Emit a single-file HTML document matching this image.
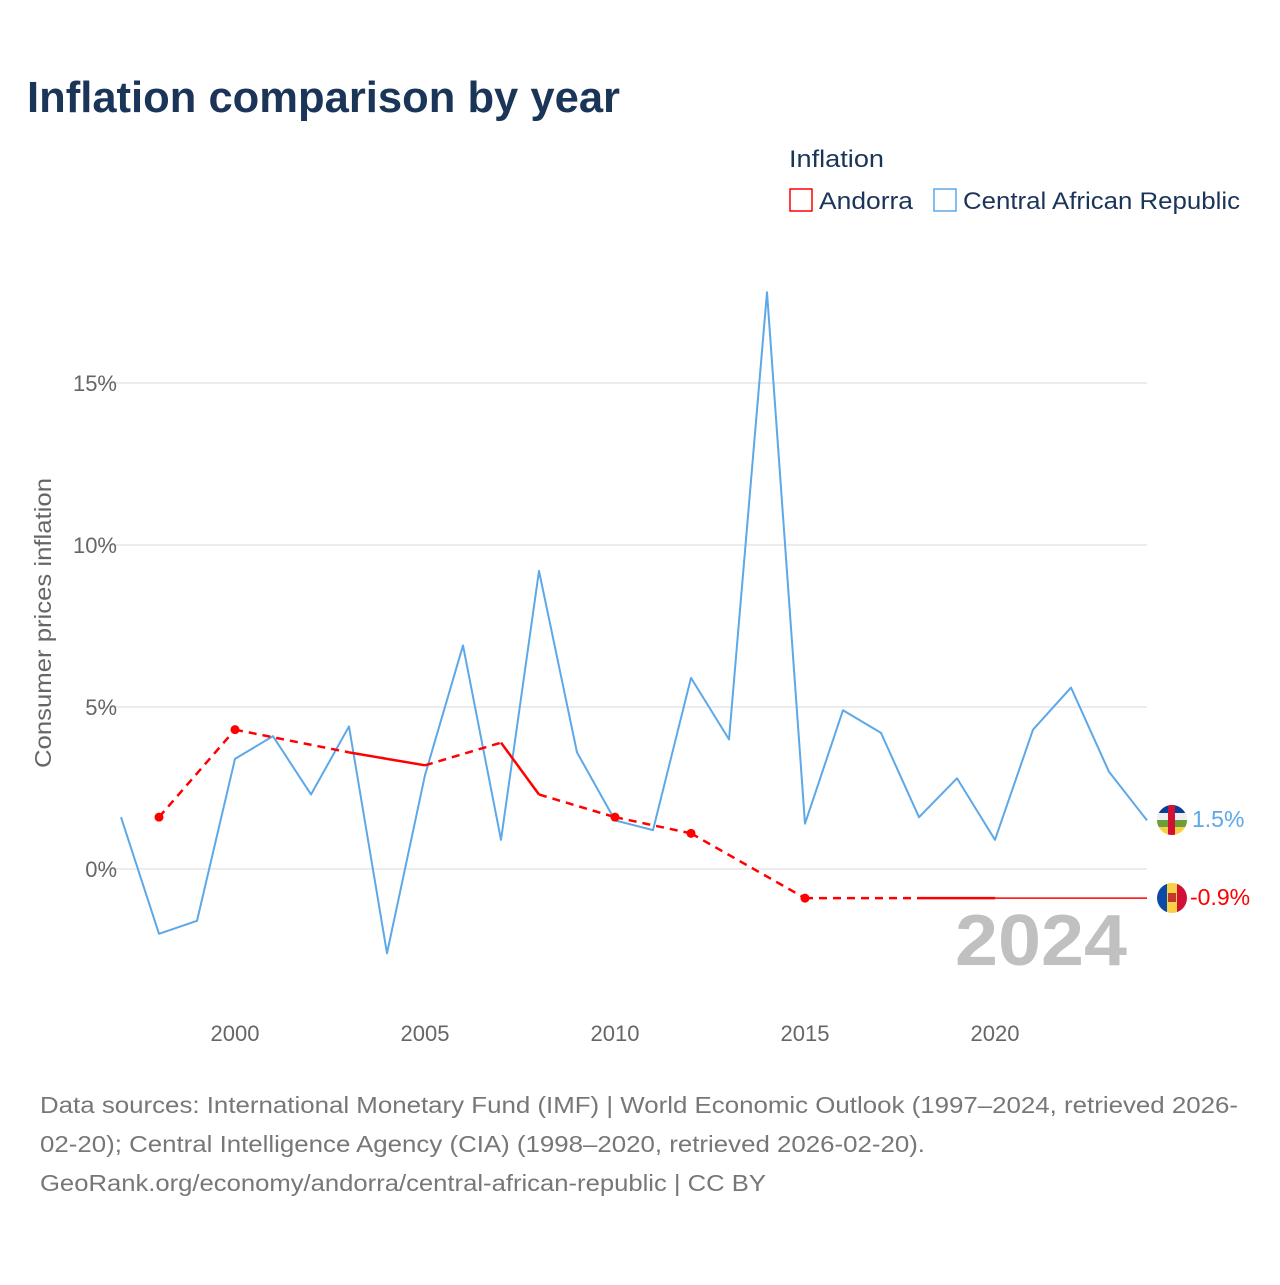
<!DOCTYPE html>
<html><head><meta charset="utf-8"><style>
body{margin:0;background:#fff;font-family:"Liberation Sans",sans-serif;}
svg text{font-family:"Liberation Sans",sans-serif;}
</style></head><body>
<svg width="1280" height="1280" viewBox="0 0 1280 1280">
<text x="27" y="112" font-size="44" font-weight="bold" fill="#1b3558" textLength="593" lengthAdjust="spacingAndGlyphs">Inflation comparison by year</text>
<text x="789" y="167" font-size="24" fill="#1b3558" textLength="95" lengthAdjust="spacingAndGlyphs">Inflation</text>
<g><rect x="790" y="189" width="22" height="22" fill="none" stroke="#ff0000" stroke-width="1.5"/><text x="819" y="209" font-size="24" fill="#1b3558" textLength="94" lengthAdjust="spacingAndGlyphs">Andorra</text></g>
<g><rect x="934" y="189" width="22" height="22" fill="none" stroke="#5ca8e8" stroke-width="1.5"/><text x="963" y="209" font-size="24" fill="#1b3558" textLength="277" lengthAdjust="spacingAndGlyphs">Central African Republic</text></g>
<g id="grid"></g>
<g id="xaxis"></g>
<text transform="translate(51,623) rotate(-90)" text-anchor="middle" font-size="23" fill="#666" textLength="290" lengthAdjust="spacingAndGlyphs">Consumer prices inflation</text>
<text x="1127" y="965" text-anchor="end" font-size="72" font-weight="bold" fill="#c0c0c0" textLength="172" lengthAdjust="spacingAndGlyphs">2024</text>
<g id="series"></g>
<g><clipPath id="c1"><circle cx="1172" cy="820" r="15"/></clipPath><g clip-path="url(#c1)"><rect x="1157" y="805" width="30" height="8" fill="#0c3d99"/><rect x="1157" y="813" width="30" height="7" fill="#eee"/><rect x="1157" y="820" width="30" height="7" fill="#6a9e3a"/><rect x="1157" y="827" width="30" height="8" fill="#f7d046"/><rect x="1168" y="805" width="7" height="30" fill="#d21034"/></g></g>
<text x="1192" y="827" font-size="23" fill="#5ca8e8">1.5%</text>
<g><clipPath id="c2"><circle cx="1172" cy="898" r="15"/></clipPath><g clip-path="url(#c2)"><rect x="1157" y="883" width="10" height="30" fill="#0b4aa8"/><rect x="1167" y="883" width="10" height="30" fill="#f7d046"/><rect x="1177" y="883" width="10" height="30" fill="#d21034"/><rect x="1168" y="893" width="8" height="9" fill="#c0392b"/></g></g>
<text x="1190" y="905" font-size="23" fill="#ff0000">-0.9%</text>
<g font-size="23" fill="#777">
<text x="40" y="1113" textLength="1198" lengthAdjust="spacingAndGlyphs">Data sources: International Monetary Fund (IMF) | World Economic Outlook (1997–2024, retrieved 2026-</text>
<text x="40" y="1152" textLength="885" lengthAdjust="spacingAndGlyphs">02-20); Central Intelligence Agency (CIA) (1998–2020, retrieved 2026-02-20).</text>
<text x="40" y="1191" textLength="726" lengthAdjust="spacingAndGlyphs">GeoRank.org/economy/andorra/central-african-republic | CC BY</text>
</g>
</svg>
<script>
const carYears=[1997,1998,1999,2000,2001,2002,2003,2004,2005,2006,2007,2008,2009,2010,2011,2012,2013,2014,2015,2016,2017,2018,2019,2020,2021,2022,2023,2024];
const carValues=[1.6,-2.0,-1.6,3.4,4.1,2.3,4.4,-2.6,2.9,6.9,0.9,9.2,3.6,1.5,1.2,5.9,4.0,17.8,1.4,4.9,4.2,1.6,2.8,0.9,4.3,5.6,3.0,1.5];
const andYears=[1998,2000,2003,2004,2005,2007,2008,2010,2012,2015,2018,2019,2020,2021,2022,2023,2024];
const andValues=[1.6,4.3,3.6,3.4,3.2,3.9,2.3,1.6,1.1,-0.9,-0.9,-0.9,-0.9,-0.9,-0.9,-0.9,-0.9];
const yTicks=[0,5,10,15];
const yTickLabels=["0%","5%","10%","15%"];
const xTicks=[2000,2005,2010,2015,2020];
const NS="http://www.w3.org/2000/svg";
const X=y=>121+(y-1997)*38;
const Y=v=>869-v*32.4;
function mk(t,a,p){const e=document.createElementNS(NS,t);for(const k in a)e.setAttribute(k,a[k]);p.appendChild(e);return e;}
const grid=document.getElementById('grid');
yTicks.forEach((t,i)=>{
 const l=mk('line',{x1:100,x2:1147,y1:Y(t),y2:Y(t),stroke:'#e6e6e6','stroke-width':1.5},grid);
 
 
 const tx=mk('text',{x:117,y:Y(t)+8,'text-anchor':'end','font-size':22,fill:'#666'},grid);
 tx.textContent=yTickLabels[i];
 
 
});
const xa=document.getElementById('xaxis');
xTicks.forEach(t=>{
 const tx=mk('text',{x:X(t),y:1041,'text-anchor':'middle','font-size':22,fill:'#666'},xa);
 tx.textContent=t;
 
 
});
const s=document.getElementById('series');
const car=mk('polyline',{points:carYears.map((y,i)=>X(y)+','+Y(carValues[i])).join(' '),fill:'none',stroke:'#5ca8e8','stroke-width':2,'stroke-linejoin':'round'},s);


for(let i=0;i<andYears.length-1;i++){
 const gap=andYears[i+1]-andYears[i]>1;
 const seg=mk('line',{x1:X(andYears[i]),y1:Y(andValues[i]),x2:X(andYears[i+1]),y2:Y(andValues[i+1]),stroke:'#ff0000','stroke-width':gap?2.5:(andYears[i]>=2020?1.5:2.5),'stroke-dasharray':gap?'8,6':'none'},s);
 
 
}
andYears.forEach((y,i)=>{
 const prev=i>0&&y-andYears[i-1]===1, next=i<andYears.length-1&&andYears[i+1]-y===1;
 if(!prev&&!next){
  const c=mk('circle',{cx:X(y),cy:Y(andValues[i]),r:4.5,fill:'#ff0000'},s);
  
  
 }
});
</script>
</body></html>
